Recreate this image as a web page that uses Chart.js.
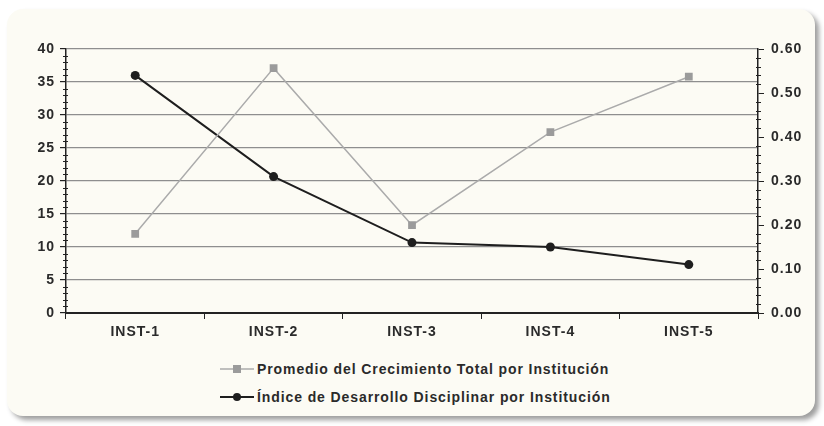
<!DOCTYPE html>
<html lang="es">
<head>
<meta charset="utf-8">
<script src="https://cdn.jsdelivr.net/npm/chart.js@4.4.1/dist/chart.umd.min.js"></script>
<style>
  html, body { margin: 0; padding: 0; background: #ffffff; }
  body { width: 824px; height: 426px; position: relative; overflow: hidden;
         font-family: "Liberation Sans", Arial, sans-serif; }
  #frame { position: absolute; left: 7px; top: 9px; width: 808px; height: 407px;
           background: #fcfbf4; border-radius: 16px;
           box-shadow: 4px 4px 5px rgba(0,0,0,0.38); }
  #wrap { position: absolute; left: 0; top: 0; width: 824px; height: 350px; }
  #legend { position: absolute; left: 220px; top: 355px; font-weight: bold;
            font-size: 14px; letter-spacing: 0.9px; color: #2a2a2a; }
  .item { display: flex; align-items: center; height: 28px; white-space: nowrap; }
  .item svg { margin-right: 3px; }
</style>
</head>
<body>
<div id="frame"></div>
<div id="wrap"><canvas id="chart" width="824" height="350"></canvas></div>
<div id="legend"></div>
<script>
// Institutions on the category axis
const categories = ['INST-1', 'INST-2', 'INST-3', 'INST-4', 'INST-5'];
// Average total growth per institution (left axis)
const promedioCrecimiento = [12.0, 37.1, 13.3, 27.4, 35.8];
// Disciplinary development index per institution (right axis)
const indiceDesarrollo = [0.54, 0.31, 0.16, 0.15, 0.11];
// Axis ranges and labels
const leftTicks = [0, 5, 10, 15, 20, 25, 30, 35, 40];
const rightTicks = [0, 0.1, 0.2, 0.3, 0.4, 0.5, 0.6];
const seriesNames = [
  'Promedio del Crecimiento Total por Institución',
  'Índice de Desarrollo Disciplinar por Institución'
];

const TEXT = '#2a2a2a';
const AXIS = '#222222';
const TICK_FONT = { family: 'Liberation Sans', weight: 'bold', size: 14 };

// slightly wider lettering for the axis labels
const spacedText = {
  id: 'spacedText',
  beforeDraw(chart) { chart.ctx.letterSpacing = '1px'; }
};

// short minor tick marks along both value axes
const minorTicks = {
  id: 'minorTicks',
  afterDraw(chart) {
    const ctx = chart.ctx;
    const yl = chart.scales.y, yr = chart.scales.y1;
    ctx.save();
    ctx.strokeStyle = AXIS;
    ctx.lineWidth = 1;
    ctx.beginPath();
    for (let v = 0; v <= 40; v += 1) {
      if (v % 5 === 0) continue;
      const p = Math.round(yl.getPixelForValue(v)) + 0.5;
      ctx.moveTo(yl.right - 3, p); ctx.lineTo(yl.right + 2, p);
    }
    for (let i = 0; i <= 30; i++) {
      if (i % 5 === 0) continue;
      const p = Math.round(yr.getPixelForValue(i * 0.02)) + 0.5;
      ctx.moveTo(yr.left - 2, p); ctx.lineTo(yr.left + 3, p);
    }
    ctx.stroke();
    ctx.restore();
  }
};

const chart = new Chart(document.getElementById('chart'), {
  type: 'line',
  data: {
    labels: categories,
    datasets: [
      {
        label: seriesNames[0],
        data: promedioCrecimiento,
        yAxisID: 'y',
        borderColor: '#ababab',
        borderWidth: 1.5,
        pointStyle: 'rect',
        pointRadius: 5.5,
        pointBackgroundColor: '#9b9b9b',
        pointBorderColor: '#9b9b9b',
        pointBorderWidth: 0,
        tension: 0
      },
      {
        label: seriesNames[1],
        data: indiceDesarrollo,
        yAxisID: 'y1',
        borderColor: '#1e1e1e',
        borderWidth: 2,
        pointStyle: 'circle',
        pointRadius: 4.5,
        pointBackgroundColor: '#1e1e1e',
        pointBorderColor: '#1e1e1e',
        pointBorderWidth: 0,
        tension: 0
      }
    ]
  },
  options: {
    responsive: false,
    animation: false,
    layout: { padding: { top: 49, left: 0, right: 0, bottom: 0 } },
    plugins: { legend: { display: false }, tooltip: { enabled: false } },
    scales: {
      x: {
        offset: true,
        afterFit(s) { s.height = 37; },
        grid: { offset: true, drawOnChartArea: false, drawTicks: true,
                tickLength: 6, color: AXIS, lineWidth: 1 },
        border: { display: true, color: AXIS, width: 2 },
        ticks: { color: TEXT, padding: 5, font: TICK_FONT }
      },
      y: {
        position: 'left',
        min: 0, max: 40,
        afterFit(s) { s.width = 66; },
        afterBuildTicks(s) { s.ticks = leftTicks.map(v => ({ value: v })); },
        grid: { color: '#8e8e8e', lineWidth: 1.2, tickLength: 6,
                tickColor: AXIS, drawTicks: true },
        border: { display: true, color: AXIS, width: 1.5 },
        ticks: { color: TEXT, padding: 5, font: TICK_FONT }
      },
      y1: {
        position: 'right',
        min: 0, max: 0.6,
        afterFit(s) { s.width = 66; },
        afterBuildTicks(s) { s.ticks = rightTicks.map(v => ({ value: v })); },
        grid: { drawOnChartArea: false, drawTicks: true, tickLength: 6,
                color: AXIS, lineWidth: 1 },
        border: { display: true, color: AXIS, width: 1.5 },
        ticks: { color: TEXT, padding: 7,
                 callback: v => Number(v).toFixed(2),
                 font: TICK_FONT }
      }
    }
  },
  plugins: [spacedText, minorTicks]
});

// legend: two rows, line-with-marker swatch followed by the series name
const legend = document.getElementById('legend');
const swatches = [
  '<svg width="34" height="12"><line x1="0" y1="6" x2="34" y2="6" stroke="#ababab" stroke-width="1.5"/><rect x="13" y="2" width="8" height="8" fill="#9b9b9b"/></svg>',
  '<svg width="34" height="12"><line x1="0" y1="6" x2="34" y2="6" stroke="#1e1e1e" stroke-width="2"/><circle cx="17" cy="6" r="4" fill="#1e1e1e"/></svg>'
];
seriesNames.forEach((name, i) => {
  const row = document.createElement('div');
  row.className = 'item';
  row.innerHTML = swatches[i] + '<span>' + name + '</span>';
  legend.appendChild(row);
});
</script>
</body>
</html>
